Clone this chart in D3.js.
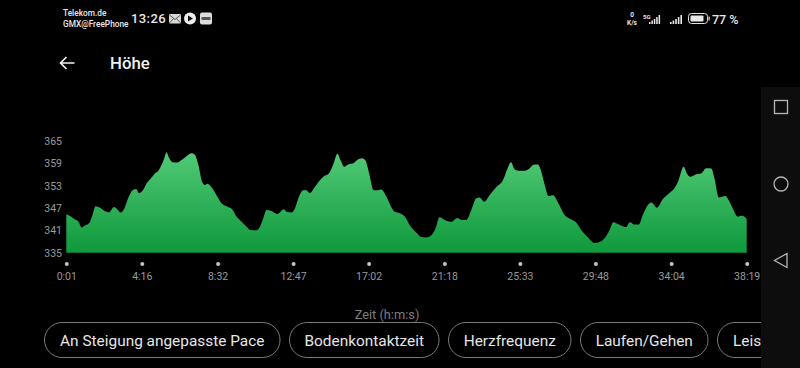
<!DOCTYPE html>
<html><head><meta charset="utf-8">
<script src="https://cdn.jsdelivr.net/npm/d3@7"></script>
<style>
html,body{margin:0;padding:0;background:#000;overflow:hidden}
svg{display:block}
text{font-family:Roboto,sans-serif}
</style></head><body>
<svg id="c" width="800" height="368"></svg>
<script>
const seconds=[1,13,27,42,53,64,78,87,100,115,131,145,162,173,185,197,212,224,237,246,259,272,289,300,312,323,332,339,348,360,376,390,405,424,435,447,460,469,478,494,508,525,542,561,576,593,610,623,641,655,666,677,694,713,736,745,762,773,787,801,812,823,840,857,872,888,902,917,927,940,953,970,987,1001,1012,1024,1039,1054,1065,1082,1099,1110,1127,1144,1161,1183,1200,1217,1234,1248,1262,1279,1302,1322,1335,1352,1369,1386,1397,1412,1431,1453,1476,1489,1503,1515,1527,1549,1566,1579,1594,1605,1617,1630,1645,1662,1684,1701,1723,1740,1763,1785,1800,1816,1833,1849,1864,1892,1904,1920,1935,1948,1965,1977,1996,2016,2039,2055,2067,2086,2097,2108,2128,2145,2162,2179,2190,2205,2227,2241,2252,2269,2284,2299];
const elevation=[345.3,344.9,344.1,343.3,341.8,342.3,342.9,344.5,347.5,347.1,346.2,345.8,347.3,346.7,345.8,346.9,350,351.7,352.1,351,351.7,353.6,355.2,356.3,357,358.6,360.4,362,360.5,359.3,359.2,359.9,360.8,361.7,361.3,358.6,354,353.2,353.5,352.3,350.5,348.3,347.5,346.7,344.7,343.3,342,341.1,341,342,344.2,346.5,346.2,345.4,346.7,346,345.8,346.9,350.1,351.8,351.8,351,352.6,354.4,355.6,356.3,358.6,361.6,359.9,358.1,358.7,359,360.1,360.4,359.7,356.3,351.8,351.8,352,350.1,347.2,346,345.6,344.7,342.4,340.4,339.2,339.1,339.7,341.5,344.5,343.8,343.3,344.3,343.8,343.8,346.5,349.6,349.8,348.7,350.5,352.6,354.5,357.2,359.3,357.4,357,357,357.7,358.6,358.7,356.8,353.2,350.2,350.4,348.4,345.1,344.1,343.1,341.1,339.1,337.6,337.8,338.6,340.6,343.2,342.7,341.9,343.2,342.6,342.6,345.1,347.8,348.5,347.1,349.4,351.1,352.3,354.1,358.1,356.3,355.4,356.1,356.3,357.7,357.6,355,349.8,350.2,348.7,346.9,344.7,344.9,344];
const xTickSeconds=[1,256,512,767,1022,1278,1533,1788,2044,2299];
const xTickLabels=["0:01","4:16","8:32","12:47","17:02","21:18","25:33","29:48","34:04","38:19"];
const yTicks=[335,341,347,353,359,365];
const chipLabels=["An Steigung angepasste Pace","Bodenkontaktzeit","Herzfrequenz","Laufen/Gehen","Leistung"];

const svg=d3.select("#c");
const x=d3.scaleLinear().domain([1,2299]).range([66.3,746.7]);
const y=d3.scaleLinear().domain([335,365]).range([252.7,141]);

const defs=svg.append("defs");
const g=defs.append("linearGradient").attr("id","fill").attr("x1",0).attr("y1",0).attr("x2",0).attr("y2",1);
g.append("stop").attr("offset",0).attr("stop-color","#52ca76");
g.append("stop").attr("offset",1).attr("stop-color","#0f983c");
defs.append("clipPath").attr("id","chipClip").append("rect").attr("x",0).attr("y",300).attr("width",761).attr("height",68);

const pts=seconds.map((s,i)=>[s,elevation[i]]);
svg.append("path").datum(pts)
  .attr("d",d3.area().curve(d3.curveMonotoneX).x(d=>x(d[0])).y0(y(335)).y1(d=>y(d[1])))
  .attr("fill","url(#fill)");

const ya=svg.append("g").attr("transform","translate(62,0)")
  .call(d3.axisLeft(y).tickValues(yTicks).tickSize(0).tickPadding(0));
ya.select(".domain").remove();
ya.selectAll("text").attr("fill","#9a9a9a").style("font-size","10.5px");

const xa=svg.append("g").attr("transform","translate(0,264)")
  .call(d3.axisBottom(x).tickValues(xTickSeconds).tickFormat((d,i)=>xTickLabels[i]).tickSize(0).tickPadding(9));
xa.select(".domain").remove();
xa.selectAll("text").attr("fill","#9a9a9a").style("font-size","10.5px");
xa.selectAll(".tick").append("circle").attr("r",2).attr("fill","#c4c4c4");

svg.append("text").attr("x",387).attr("y",318.5).attr("text-anchor","middle").attr("fill","#7d7d7d").style("font-size","12.8px").text("Zeit (h:m:s)");

// chips
const chipEdges=[[44.5,280],[289.5,439],[448.5,571],[580.5,708],[717.5,860]];
const chips=svg.append("g").attr("clip-path","url(#chipClip)").selectAll("g").data(chipLabels).join("g");
chips.append("rect").attr("x",(d,i)=>chipEdges[i][0]).attr("y",322.5).attr("width",(d,i)=>chipEdges[i][1]-chipEdges[i][0]).attr("height",35)
  .attr("rx",17.5).attr("fill","none").attr("stroke","#7a7a7a").attr("stroke-width",1);
chips.append("text").attr("x",(d,i)=>i<4?(chipEdges[i][0]+chipEdges[i][1])/2:733).attr("y",346)
  .attr("text-anchor",(d,i)=>i<4?"middle":"start").attr("fill","#e6e6e6").style("font-size","15.4px").text(d=>d);

// nav bar
svg.append("rect").attr("x",761).attr("y",87).attr("width",39).attr("height",281).attr("fill","#0d0d0d");
svg.append("rect").attr("x",774.5).attr("y",100.5).attr("width",13).attr("height",13).attr("fill","none").attr("stroke","#b5b5b5").attr("stroke-width",1.3);
svg.append("circle").attr("cx",781).attr("cy",184).attr("r",7).attr("fill","none").attr("stroke","#b5b5b5").attr("stroke-width",1.3);
svg.append("path").attr("d","M787 253.5L774.5 260.5L787 267.5Z").attr("fill","none").attr("stroke","#b5b5b5").attr("stroke-width",1.3);

// header
svg.append("path").attr("d","M74.5 63H60.5M66.5 57L60.5 63L66.5 69").attr("fill","none").attr("stroke","#f2f2f2").attr("stroke-width",1.7);
svg.append("text").attr("x",110).attr("y",69).attr("fill","#f0f0f0").style("font-size","16.8px").style("font-weight",500).text("Höhe");

// status bar
const st=svg.append("g").attr("fill","#e8e8e8");
st.append("text").attr("x",63).attr("y",16).style("font-size","8.3px").style("font-weight",500).text("Telekom.de");
st.append("text").attr("x",63).attr("y",27).style("font-size","8.3px").style("font-weight",500).text("GMX@FreePhone");
st.append("text").attr("x",131).attr("y",23).style("font-size","13px").style("font-weight",500).attr("letter-spacing",0.4).text("13:26");
st.append("rect").attr("x",169).attr("y",14).attr("width",12).attr("height",9.5).attr("rx",1).attr("fill","#d8d8d8");
st.append("path").attr("d","M169.5 15L175 19.5L180.5 15M169.5 23L173.5 18.5M180.5 23L176.5 18.5").attr("fill","none").attr("stroke","#333").attr("stroke-width",0.8);
st.append("circle").attr("cx",190).attr("cy",18.5).attr("r",6).attr("fill","#eee");
st.append("path").attr("d","M188 15.5L193 18.5L188 21.5Z").attr("fill","#111");
st.append("rect").attr("x",200).attr("y",12.5).attr("width",12).attr("height",12).attr("rx",2).attr("fill","#ddd");
st.append("rect").attr("x",201.5).attr("y",17).attr("width",9).attr("height",3).attr("fill","#555");
st.append("text").attr("x",632).attr("y",16.5).attr("text-anchor","middle").style("font-size","6.5px").style("font-weight",700).text("0");
st.append("text").attr("x",632).attr("y",25).attr("text-anchor","middle").style("font-size","6.5px").style("font-weight",700).text("K/s");
st.append("text").attr("x",643).attr("y",18.5).style("font-size","6px").style("font-weight",700).text("5G");
const bars=[2,3.5,5,7,9];
bars.forEach((h,i)=>{
  st.append("rect").attr("x",649+i*2.4).attr("y",24-h).attr("width",1.5).attr("height",h);
  st.append("rect").attr("x",670+i*2.6).attr("y",24-h).attr("width",1.6).attr("height",h);
});
st.append("rect").attr("x",688.5).attr("y",13.5).attr("width",19).attr("height",10).attr("rx",3).attr("fill","none").attr("stroke","#e0e0e0").attr("stroke-width",1);
st.append("rect").attr("x",690.5).attr("y",15.5).attr("width",13).attr("height",6).attr("rx",1).attr("fill","#e8e8e8");
st.append("rect").attr("x",708.5).attr("y",16.5).attr("width",1.2).attr("height",4).attr("fill","#e0e0e0");
st.append("text").attr("x",712).attr("y",23.5).style("font-size","12.5px").style("font-weight",500).text("77 %");
</script>
</body></html>
